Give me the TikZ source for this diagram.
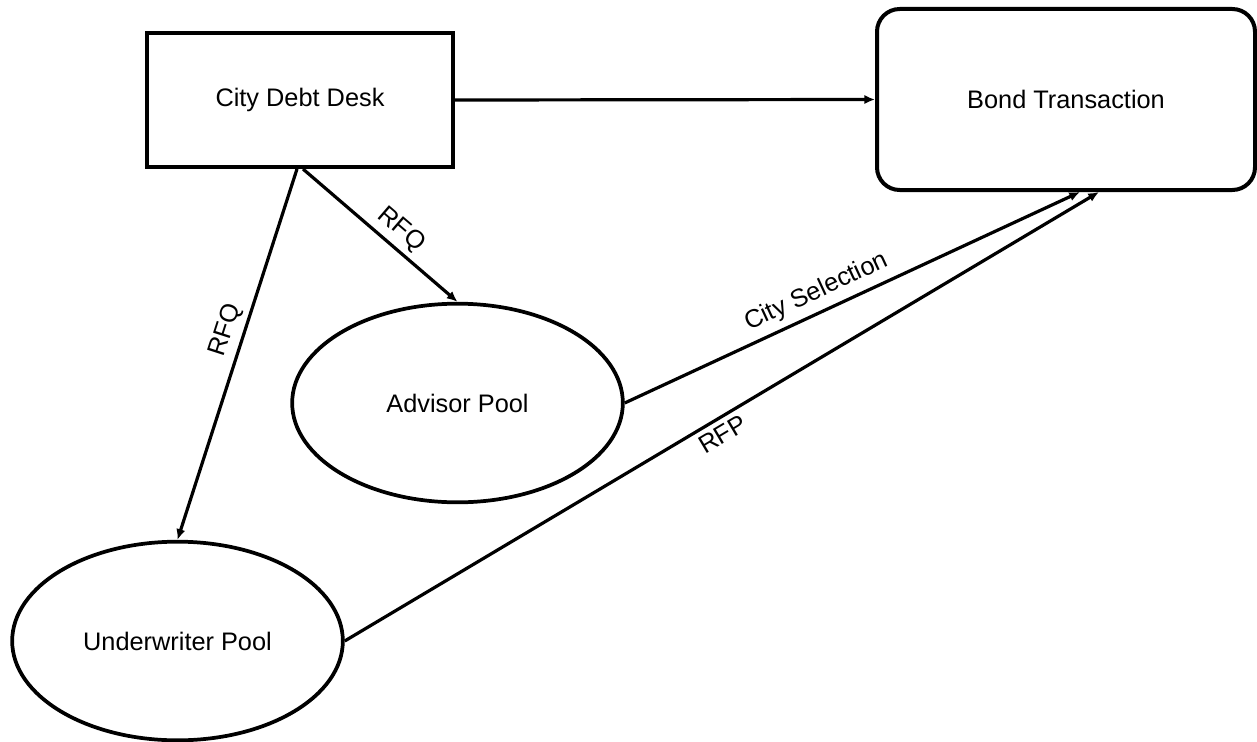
\documentclass[tikz,border=0pt]{standalone}
\usepackage{fontspec}
\setmainfont{Liberation Sans}
\usetikzlibrary{arrows.meta,shapes.geometric}

\begin{document}
\begin{tikzpicture}[x=0.75pt,y=-0.75pt,
  every node/.style={font=\fontsize{19}{23}\selectfont},
  deskbox/.style={draw, line width=3pt, rectangle, inner sep=0pt,
    minimum width=229.5pt, minimum height=100.5pt},
  dealbox/.style={draw, line width=3pt, rectangle, rounded corners=17pt,
    inner sep=0pt, minimum width=283.5pt, minimum height=135.75pt},
  pool/.style={draw, line width=2.8pt, ellipse, inner sep=0pt,
    minimum width=248pt, minimum height=149pt},
  flow/.style={line width=2.4pt, -{Latex[length=8pt,width=7pt]}},
  lbl/.style={sloped, inner sep=4pt}
]
\useasboundingbox (0,0) rectangle (1257,742);

% nodes
\node[deskbox] (cdd) at (300,100) {City Debt Desk};
\node[dealbox] (bt) at (1066,99.5) {Bond Transaction};
\node[pool] (adv) at (457.5,403) {Advisor Pool};
\node[pool] (uw) at (177.5,641) {Underwriter Pool};

% connectors
\draw[flow] (cdd.east) -- (bt.west);
\draw[flow] ([xshift=2.25pt]cdd.south) -- node[lbl, above, pos=0.56] {RFQ} (adv.north);
\draw[flow] ([xshift=-2.25pt]cdd.south) -- node[lbl, above, pos=0.45] {RFQ} (uw.north);
\draw[flow] (adv.east) -- node[lbl, above, pos=0.44, inner sep=5pt] {City Selection} ([xshift=10.5pt]bt.south);
\draw[flow] (uw.east) -- node[lbl, below, pos=0.49] {RFP} ([xshift=24.75pt]bt.south);
\end{tikzpicture}
\end{document}
